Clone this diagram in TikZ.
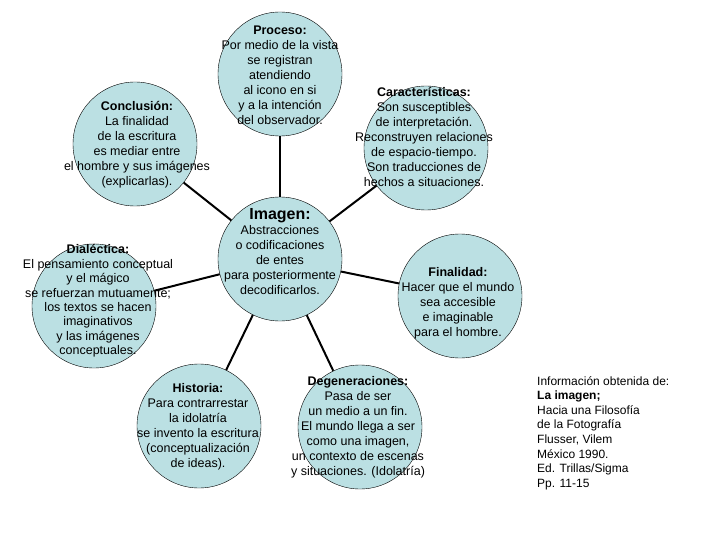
\documentclass[tikz,border=0pt]{standalone}
\usepackage{fontspec}
\setmainfont{Liberation Sans}
\definecolor{bubble}{HTML}{BBE0E3}

\begin{document}
\begin{tikzpicture}[x=1pt,y=-1pt,
  circ/.style={circle,draw=black,fill=bubble,minimum size=124pt,inner sep=0pt},
  txt/.style={align=center,font=\fontsize{12.5}{15}\selectfont,inner sep=0pt},
  link/.style={line width=2pt}]
\useasboundingbox (0,0) rectangle (720,540);

% circles
\node[circ] (imagen) at (280,259) {};
\node[circ] (proceso) at (280,74) {};
\node[circ] (caract) at (426,148) {};
\node[circ] (conclusion) at (135,144) {};
\node[circ] (dialectica) at (94,306) {};
\node[circ] (finalidad) at (460,296) {};
\node[circ] (historia) at (199,426) {};
\node[circ] (degen) at (360,427) {};

% links to the centre
\draw[link] (imagen) -- (proceso);
\draw[link] (imagen) -- (caract);
\draw[link] (imagen) -- (conclusion);
\draw[link] (imagen) -- (dialectica);
\draw[link] (imagen) -- (finalidad);
\draw[link] (imagen) -- (historia);
\draw[link] (imagen) -- (degen);

% texts
\node[txt] (tproceso) at (280,75) {\textbf{Proceso:}\\Por medio de la vista\\se registran\\atendiendo\\al icono en si\\y a la intención\\del observador.};
\node[txt] (tcaract) at (424,137) {\textbf{Características:}\\Son susceptibles\\de interpretación.\\Reconstruyen relaciones\\de espacio-tiempo.\\Son traducciones de\\hechos a situaciones.};
\node[txt] (tconclusion) at (137,145) {\textbf{Conclusión:}\\La finalidad\\de la escritura\\es mediar entre\\el hombre y sus imágenes\\(explicarlas).};
\node[txt] (timagen) at (280,252) {{\fontsize{16}{18}\selectfont\textbf{Imagen:}}\\Abstracciones\\o codificaciones\\de entes\\para posteriormente\\decodificarlos.};
\node[txt,font=\fontsize{12.5}{14.4}\selectfont] (tdialectica) at (98,301) {\textbf{Dialéctica:}\\El pensamiento conceptual\\y el mágico\\se refuerzan mutuamente;\\los textos se hacen\\imaginativos\\y las imágenes\\conceptuales.};
\node[txt] (tfinalidad) at (458,303) {\textbf{Finalidad:}\\Hacer que el mundo\\sea accesible\\e imaginable\\para el hombre.};
\node[txt] (thistoria) at (198,427) {\textbf{Historia:}\\Para contrarrestar\\la idolatría\\se invento la escritura\\(conceptualización\\de ideas).};
\node[txt] (tdegen) at (358,427) {\textbf{Degeneraciones:}\\Pasa de ser\\un medio a un fin.\\El mundo llega a ser\\como una imagen,\\un contexto de escenas\\y situaciones. (Idolatría)};

% source
\node[txt,align=left,anchor=north west,font=\fontsize{12}{14.6}\selectfont] (fuente) at (537,376) {Información obtenida de:\\\textbf{La imagen;}\\Hacia una Filosofía\\de la Fotografía\\Flusser, Vilem\\México 1990.\\Ed. Trillas/Sigma\\Pp. 11-15};
\end{tikzpicture}
\end{document}
